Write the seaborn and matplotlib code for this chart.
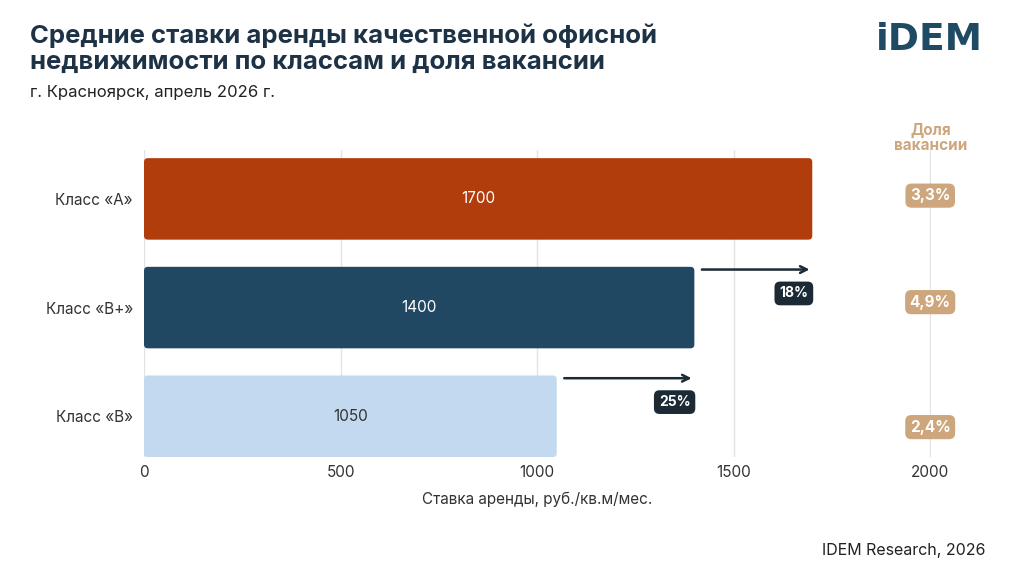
import matplotlib
matplotlib.use("Agg")
import matplotlib.pyplot as plt
from matplotlib.patches import FancyBboxPatch
import seaborn as sns
import pandas as pd

classes = ["Класс «А»", "Класс «В+»", "Класс «В»"]
rents = [1700, 1400, 1050]
vacancy = ["3,3%", "4,9%", "2,4%"]
growth = ["18%", "25%"]  # premium of next class over this one
bar_colors = ["#B13C0C", "#214862", "#C2D9F0"]
label_colors = ["white", "white", "#333333"]

df = pd.DataFrame({"cls": classes, "rent": rents})

sns.set_theme(style="white")
plt.rcParams["font.family"] = ["Inter", "DejaVu Sans"]

fig = plt.figure(figsize=(10.24, 5.76), dpi=100)
ax = fig.add_axes([144 / 1024, 1 - 457 / 576, 787 / 1024, 307 / 576])

sns.barplot(data=df, x="rent", y="cls", hue="cls", palette=bar_colors,
            width=0.75, saturation=1, legend=False, ax=ax)

# swap plain bars for rounded ones
asp = (2000 / 787) / (2.825 / 307)
for p in list(ax.patches):
    x0, y0 = p.get_x(), p.get_y()
    w, h = p.get_width(), p.get_height()
    fc = p.get_facecolor()
    p.remove()
    ax.add_patch(FancyBboxPatch((x0, y0), w, h,
                                boxstyle="round,pad=0,rounding_size=10",
                                mutation_aspect=1 / asp, fc=fc, ec="none",
                                zorder=3))

ax.set_xlim(0, 2002)
ax.set_ylim(2.375, -0.45)
ax.set_xticks([0, 500, 1000, 1500, 2000])
ax.grid(axis="x", color="#E3E3E3", lw=1, zorder=0)
ax.set_axisbelow(True)
for s in ax.spines.values():
    s.set_visible(False)
ax.tick_params(axis="both", length=0, labelsize=11, colors="#333333", pad=8)
ax.tick_params(axis="x", pad=6)
ax.set_ylabel("")
ax.set_xlabel("Ставка аренды, руб./кв.м/мес.", fontsize=11, color="#333333",
              labelpad=8)

for i, v in enumerate(rents):
    ax.text(v / 2, i, str(v), ha="center", va="center", fontsize=11,
            color=label_colors[i], zorder=4)

# arrows showing the gap to the next class
for i, g in enumerate(growth):
    start = rents[i + 1]
    end = rents[i]
    yy = i + 1 - 0.35
    ax.annotate("", xy=(end, yy), xytext=(start + 12, yy),
                arrowprops=dict(arrowstyle="->", color="#1B2A35", lw=1.8,
                                mutation_scale=12), zorder=5)
    ax.text(end - 10, i + 1 - 0.13, g, ha="right", va="center", fontsize=10,
            fontweight="bold", color="white", zorder=6,
            bbox=dict(boxstyle="round,pad=0.35,rounding_size=0.4",
                      fc="#1B2A35", ec="none"))

vac_shift = [-0.03, -0.05, 0.10]
for i, v in enumerate(vacancy):
    ax.text(2000, i + vac_shift[i], v, ha="center", va="center", fontsize=11,
            fontweight="bold", color="white", zorder=6, clip_on=False,
            bbox=dict(boxstyle="round,pad=0.3,rounding_size=0.4",
                      fc="#CDA67D", ec="none"))

fig.text(931 / 1024, 1 - 138 / 576, "Доля\nвакансии", ha="center", va="center",
         fontsize=11, fontweight="bold", color="#CDA67D", linespacing=1.0)

fig.text(30 / 1024, 1 - 23 / 576,
         "Средние ставки аренды качественной офисной\nнедвижимости по классам и доля вакансии",
         ha="left", va="top", fontsize=18.5, fontweight="bold", color="#1E3246",
         linespacing=1.2)
fig.text(30 / 1024, 1 - 93 / 576, "г. Красноярск, апрель 2026 г.", ha="left",
         va="center", fontsize=12, color="#222222")
fig.text(983 / 1024, 1 - 40 / 576, "iDEM", ha="right", va="center",
         fontsize=27, fontweight="bold", color="#1E4A63",
         family="DejaVu Sans")
fig.text(986 / 1024, 1 - 551 / 576, "IDEM Research, 2026", ha="right",
         va="center", fontsize=11.5, color="#222222")

fig.savefig("out.png", dpi=100)
